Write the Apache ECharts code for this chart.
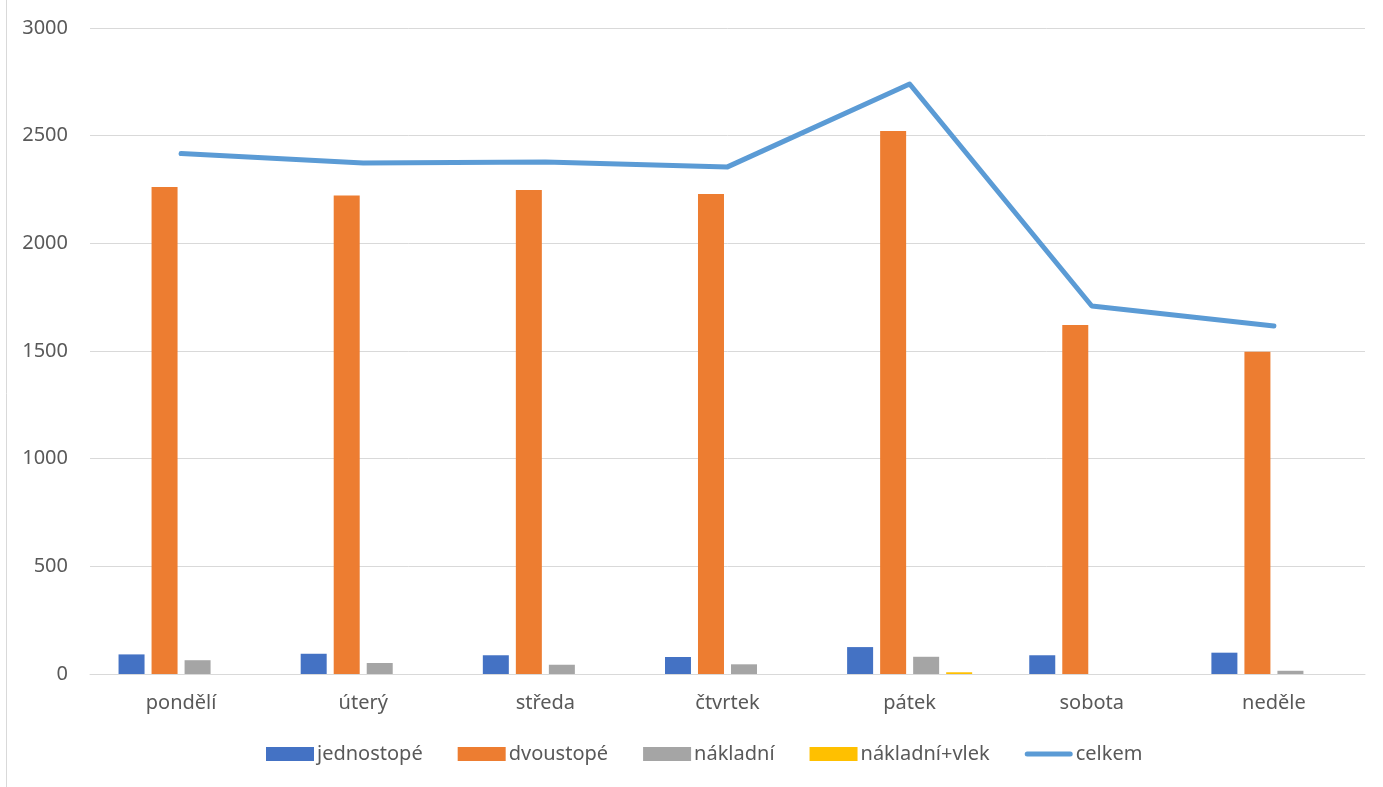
<!DOCTYPE html>
<html>
<head>
<meta charset="utf-8">
<script src="https://cdn.jsdelivr.net/npm/echarts@6/dist/echarts.min.js"></script>
<style>
  html, body { margin: 0; padding: 0; background: #fff; }
  #chart { width: 1383px; height: 787px; }
</style>
</head>
<body>
<div id="chart"></div>
<script>
// Days of the week
const categories = ['pondělí', 'úterý', 'středa', 'čtvrtek', 'pátek', 'sobota', 'neděle'];

// Vehicle counts per day
const jednostope = [91, 94, 87, 79, 125, 87, 99];
const dvoustope = [2262, 2222, 2248, 2229, 2522, 1621, 1496];
const nakladni = [64, 51, 43, 45, 80, 0, 15];
const nakladniVlek = [0, 0, 0, 0, 8, 0, 0];
const celkem = [2417, 2373, 2378, 2355, 2740, 1709, 1616];

// Value axis ticks
const yTicks = { min: 0, max: 3000, interval: 500 };

const font = 'Noto Sans';
const textColor = '#595959';
const gridColor = '#d9d9d9';
const lineColor = '#5b9bd5';

// Legend marker for the total line: a thin bar centred in the 48x14 icon box
// (the two empty subpaths only pin the box corners so the bar is not stretched)
const lineIcon = 'path://M0,0L0,0ZM48,14L48,14ZM2.5,4.5L45.5,4.5A2.5,2.5,0,0,1,45.5,9.5L2.5,9.5A2.5,2.5,0,0,1,2.5,4.5Z';

const chart = echarts.init(document.getElementById('chart'));

function barSeries(name, data, color) {
  return {
    name: name,
    type: 'bar',
    data: data,
    barWidth: 26,
    barGap: '27%',
    itemStyle: { color: color },
    emphasis: { disabled: true }
  };
}

chart.setOption({
  animation: false,
  backgroundColor: '#fff',
  textStyle: { fontFamily: font },
  graphic: [{
    type: 'line',
    shape: { x1: 6.5, y1: 0, x2: 6.5, y2: 787 },
    style: { stroke: gridColor, lineWidth: 1 },
    silent: true
  }],
  grid: { left: 90, right: 18, top: 28, bottom: 113 },
  legend: {
    left: 266,
    top: 744,
    padding: 0,
    itemWidth: 48,
    itemHeight: 14,
    itemGap: 35,
    textStyle: { fontFamily: font, fontSize: 20, color: textColor, padding: [0, 0, 0, -2] },
    data: [
      { name: 'jednostopé', icon: 'rect' },
      { name: 'dvoustopé', icon: 'rect' },
      { name: 'nákladní', icon: 'rect' },
      { name: 'nákladní+vlek', icon: 'rect' },
      { name: 'celkem', icon: lineIcon, itemStyle: { color: lineColor, borderWidth: 0 } }
    ]
  },
  xAxis: {
    type: 'category',
    data: categories,
    axisLine: { lineStyle: { color: gridColor, width: 1 } },
    axisTick: { show: false },
    axisLabel: { color: textColor, fontFamily: font, fontSize: 20, margin: 19 }
  },
  yAxis: {
    type: 'value',
    min: yTicks.min,
    max: yTicks.max,
    interval: yTicks.interval,
    axisLine: { show: false },
    axisTick: { show: false },
    splitLine: { lineStyle: { color: gridColor, width: 1 } },
    axisLabel: {
      color: textColor, fontFamily: font, fontSize: 20, margin: 22,
      formatter: function (v) { return String(v); }
    }
  },
  series: [
    barSeries('jednostopé', jednostope, '#4472c4'),
    barSeries('dvoustopé', dvoustope, '#ed7d31'),
    barSeries('nákladní', nakladni, '#a5a5a5'),
    barSeries('nákladní+vlek', nakladniVlek, '#ffc000'),
    {
      name: 'celkem',
      type: 'line',
      data: celkem,
      symbol: 'none',
      lineStyle: { color: lineColor, width: 5, cap: 'round', join: 'round' },
      itemStyle: { color: lineColor },
      emphasis: { disabled: true },
      z: 5
    }
  ]
});
</script>
</body>
</html>
